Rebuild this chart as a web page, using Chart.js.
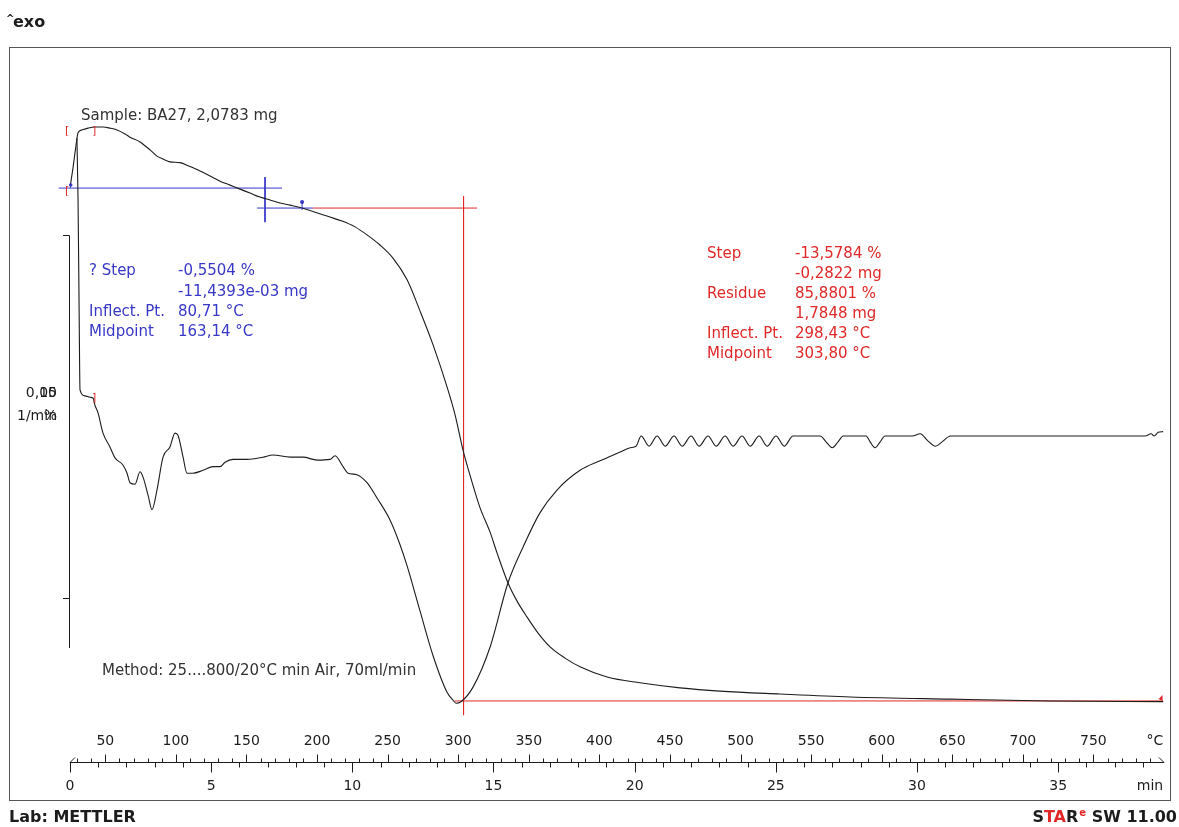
<!DOCTYPE html>
<html lang="en">
<head>
<meta charset="UTF-8">
<title>BA27 TGA / DTG</title>
<script src="https://cdn.jsdelivr.net/npm/chart.js"></script>
<style>
  body { margin: 0; background: #fff; }
  canvas { display: block; }
</style>
</head>
<body>
<canvas id="tgaChart" width="1179" height="827"></canvas>
<script>
// TGA curve: temperature (°C) against mass (%)
const tgaTemp = [25.0, 27.1, 29.3, 30.7, 33.5, 37.8, 42.7, 48.4, 53.3, 58.3, 64.0, 67.5, 74.6, 81.7, 86.6, 90.9,
  95.8, 102.9, 110.0, 117.1, 124.2, 131.3, 138.4, 145.5, 152.5, 159.6, 166.7, 173.8, 180.9, 189.4, 198.6, 209.2,
  217.7, 226.9, 235.4, 244.6, 253.8, 263.8, 273.0, 282.2, 292.1, 297.8, 303.4, 309.8, 315.5, 322.6, 327.5, 335.3,
  341.7, 348.8, 356.6, 365.1, 375.7, 386.3, 405.5, 428.8, 457.2, 485.5, 528.0, 577.6, 648.5, 719.3, 799.4];
const tgaMass = [100.01, 100.56, 101.20, 101.53, 101.61, 101.66, 101.69, 101.69, 101.66, 101.61, 101.50, 101.41, 101.28, 101.06, 100.89, 100.81,
  100.73, 100.71, 100.60, 100.48, 100.34, 100.20, 100.09, 99.98, 99.87, 99.76, 99.68, 99.60, 99.54, 99.46, 99.34, 99.21,
  99.10, 98.94, 98.72, 98.44, 98.08, 97.48, 96.62, 95.69, 94.53, 93.76, 92.79, 91.91, 91.20, 90.53, 89.96, 89.13,
  88.63, 88.19, 87.75, 87.37, 87.06, 86.82, 86.54, 86.38, 86.24, 86.15, 86.07, 85.99, 85.93, 85.88, 85.86];

// DTG curve: temperature (°C) against rate (1/min)
const dtgTemp = [29.9, 30.7, 31.4, 32.1, 35.6, 39.2, 41.3, 42.7, 44.8, 48.4, 53.3, 56.9, 62.6, 65.4, 67.5, 71.1,
  74.6, 76.7, 80.3, 83.1, 86.6, 90.9, 95.8, 99.4, 101.5, 105.1, 107.9, 112.1, 119.2, 126.3, 131.3, 134.8,
  140.5, 150.4, 161.7, 168.8, 180.9, 190.1, 200.0, 209.2, 212.8, 218.4, 222.0, 228.3, 235.4, 242.5, 251.7, 258.8,
  263.8, 273.0, 282.2, 292.1, 296.4, 298.4, 302.0, 310.5, 322.6, 335.3, 346.0, 358.0, 370.0, 386.3, 400.5, 414.7,
  421.8, 426.0, 429.6, 435.2, 440.9, 446.6, 452.9, 458.6, 465.0, 470.6, 477.0, 482.7, 489.1, 494.7, 501.1, 506.8,
  513.2, 518.8, 525.2, 530.9, 537.2, 542.2, 556.4, 560.6, 564.9, 569.1, 572.7, 589.0, 591.8, 595.3, 598.9, 602.4,
  621.6, 627.2, 632.9, 638.0, 642.8, 648.8, 786.6, 790.9, 793.0, 795.9, 799.4];
const dtgRate = [0.0408, 0.0323, 0.0186, 0.0063, 0.0055, 0.0053, 0.0052, 0.0042, 0.0032, 0.0004, -0.0015, -0.0030, -0.0040, -0.0051, -0.0064, -0.0066,
  -0.0049, -0.0056, -0.0081, -0.0101, -0.0074, -0.0029, -0.0015, 0.0004, 0.0001, -0.0029, -0.0051, -0.0051, -0.0047, -0.0042, -0.0042, -0.0036,
  -0.0032, -0.0032, -0.0029, -0.0026, -0.0029, -0.0029, -0.0033, -0.0032, -0.0027, -0.0042, -0.0051, -0.0053, -0.0064, -0.0085, -0.0115, -0.0149,
  -0.0178, -0.0240, -0.0301, -0.0351, -0.0362, -0.0366, -0.0364, -0.0344, -0.0289, -0.0201, -0.0152, -0.0105, -0.0074, -0.0047, -0.0034, -0.0022,
  -0.0016, -0.0014, 0.0000, -0.0014, 0.0000, -0.0014, 0.0000, -0.0014, 0.0000, -0.0014, 0.0000, -0.0014, 0.0000, -0.0014, 0.0000, -0.0014,
  0.0000, -0.0014, 0.0000, -0.0014, 0.0000, 0.0000, 0.0000, -0.0008, -0.0016, -0.0008, 0.0000, 0.0000, -0.0008, -0.0016, -0.0008, 0.0000,
  0.0000, 0.0003, -0.0007, -0.0014, -0.0008, 0.0000, 0.0000, 0.0003, 0.0000, 0.0005, 0.0006];

// ruler labels
const tempTicks = [50, 100, 150, 200, 250, 300, 350, 400, 450, 500, 550, 600, 650, 700, 750];
const timeTicks = [0, 5, 10, 15, 20, 25, 30, 35];

// evaluation results
const stepSmall = -0.5504, stepSmallMg = '-11,4393e-03', inflectSmall = 80.71, midSmall = 163.14;
const stepMain = -13.5784, stepMainMg = -0.2822, residue = 85.8801, residueMg = 1.7848, inflectMain = 298.43, midMain = 303.80;
const stepStartLevel = residue - stepMain;          // 99.4585 %
const baseLevel = stepStartLevel - stepSmall;      // 100.0089 %

const fmt = (v, d) => v.toFixed(d).replace('.', ',');
const pts = (xs, ys) => xs.map((x, i) => ({ x: x, y: ys[i] }));

const ink = '#1c1c1c';
const blue = '#3838c8';
const red = '#e02828';
const face = '"DejaVu Sans", Verdana, sans-serif';

function seg(data, color, axis) {
  return { data: data, yAxisID: axis, borderColor: color, borderWidth: 1, clip: false, pointRadius: 0 };
}

const paper = {
  id: 'paper',
  beforeDraw(chart) {
    const c = chart.ctx;
    c.save();
    c.fillStyle = '#fff';
    c.fillRect(0, 0, chart.width, chart.height);
    c.restore();
  },
  afterDraw(chart) {
    const c = chart.ctx;
    const xT = chart.scales.x, xM = chart.scales.time, yW = chart.scales.yTga;
    c.save();

    // frame
    c.strokeStyle = '#555';
    c.lineWidth = 1;
    c.strokeRect(9.5, 47.5, 1161, 753);

    // ruler: temperature above, time below
    const ry = 762.5;
    const x0 = xT.getPixelForValue(25), x1 = xT.getPixelForValue(800);
    c.strokeStyle = ink;
    c.beginPath();
    c.moveTo(x0, ry); c.lineTo(x1, ry);
    c.moveTo(x0, ry); c.lineTo(x0 + 5, ry - 5);
    c.moveTo(x1 - 5, ry - 5); c.lineTo(x1, ry);
    for (let t = 30; t <= 790; t += 10) {
      const px = Math.round(xT.getPixelForValue(t)) + 0.5;
      c.moveTo(px, ry); c.lineTo(px, ry - (t % 50 === 0 ? 8 : 4));
    }
    for (let m = 0; m <= 38; m++) {
      const px = Math.round(xM.getPixelForValue(m)) + 0.5;
      c.moveTo(px, ry); c.lineTo(px, ry + (m % 5 === 0 ? 10 : 5));
    }
    c.stroke();

    c.fillStyle = ink;
    c.font = '14px ' + face;
    c.textAlign = 'center';
    c.textBaseline = 'middle';
    tempTicks.forEach(t => c.fillText(String(t), xT.getPixelForValue(t), 741));
    timeTicks.forEach(m => c.fillText(String(m), xM.getPixelForValue(m), 786));
    c.fillText('°C', 1155, 741);
    c.fillText('min', 1150, 786);

    // scale bar: 10 % / 0,05 1/min
    const sTop = Math.round(yW.getPixelForValue(98.72)) + 0.5;
    const sBot = Math.round(yW.getPixelForValue(88.72)) + 0.5;
    c.beginPath();
    c.moveTo(69.5, sTop); c.lineTo(69.5, 648);
    c.moveTo(63, sTop); c.lineTo(69.5, sTop);
    c.moveTo(63, sBot); c.lineTo(69.5, sBot);
    c.stroke();
    c.textAlign = 'right';
    c.fillText('0,05', 57, 393);
    c.fillText('10', 57, 393);
    c.fillText('1/min', 57, 416);
    c.fillText('%', 57, 416);

    // headers and footers
    c.textAlign = 'left';
    c.font = 'bold 10px ' + face;
    c.fillText('^', 6, 19);
    c.font = 'bold 16px ' + face;
    c.fillText('exo', 13, 23);
    c.fillText('Lab: METTLER', 9, 818);
    c.textAlign = 'right';
    const sw = ' SW 11.00';
    let xr = 1177;
    c.fillText(sw, xr, 818); xr -= c.measureText(sw).width;
    c.font = 'bold 10px ' + face;
    c.fillStyle = red;
    c.fillText('e', xr, 813); xr -= c.measureText('e').width + 1;
    c.font = 'bold 16px ' + face;
    c.fillStyle = ink;
    c.fillText('R', xr, 818); xr -= c.measureText('R').width;
    c.fillStyle = red;
    c.fillText('TA', xr, 818); xr -= c.measureText('TA').width;
    c.fillStyle = ink;
    c.fillText('S', xr, 818);

    // annotations
    c.textAlign = 'left';
    c.font = '15px ' + face;
    c.fillStyle = '#333';
    c.fillText('Sample: BA27, 2,0783 mg', 81, 116);
    c.fillText('Method: 25....800/20°C min Air, 70ml/min', 102, 671);

    c.fillStyle = blue;
    const bl = ['? Step', '', 'Inflect. Pt.', 'Midpoint'];
    const bv = [fmt(stepSmall, 4) + ' %', stepSmallMg + ' mg', fmt(inflectSmall, 2) + ' °C', fmt(midSmall, 2) + ' °C'];
    const by = [271, 292, 312, 332];
    bl.forEach((s, i) => { c.fillText(s, 89, by[i]); c.fillText(bv[i], 178, by[i]); });

    c.fillStyle = red;
    const rl = ['Step', '', 'Residue', '', 'Inflect. Pt.', 'Midpoint'];
    const rv = [fmt(stepMain, 4) + ' %', fmt(stepMainMg, 4) + ' mg', fmt(residue, 4) + ' %', fmt(residueMg, 4) + ' mg',
      fmt(inflectMain, 2) + ' °C', fmt(midMain, 2) + ' °C'];
    rl.forEach((s, i) => { c.fillText(s, 707, 254 + 20 * i); c.fillText(rv[i], 795, 254 + 20 * i); });

    // evaluation limit brackets
    c.font = '11px ' + face;
    c.fillText('[', 65, 131);
    c.fillText(']', 92, 131);
    c.fillText('[', 65, 191);
    c.fillText(']', 92, 398);

    // step markers
    const mx = xT.getPixelForValue(189.4), my = yW.getPixelForValue(stepStartLevel);
    c.strokeStyle = blue;
    c.beginPath(); c.moveTo(mx, my - 6); c.lineTo(mx, my + 2); c.stroke();
    c.fillStyle = blue;
    c.beginPath(); c.arc(mx, my - 6, 2, 0, Math.PI * 2); c.fill();
    c.beginPath(); c.arc(xT.getPixelForValue(25.5), yW.getPixelForValue(baseLevel) - 3, 1.8, 0, Math.PI * 2); c.fill();
    c.fillStyle = red;
    c.beginPath();
    const ex = xT.getPixelForValue(799), ey = yW.getPixelForValue(residue);
    c.moveTo(ex, ey - 6); c.lineTo(ex, ey); c.lineTo(ex - 4, ey - 2); c.closePath(); c.fill();

    c.restore();
  }
};

new Chart(document.getElementById('tgaChart'), {
  type: 'line',
  data: {
    datasets: [
      { data: pts(tgaTemp, tgaMass), yAxisID: 'yTga', borderColor: ink, borderWidth: 1.1, pointRadius: 0,
        cubicInterpolationMode: 'monotone' },
      { data: pts(dtgTemp, dtgRate), yAxisID: 'yDtg', borderColor: ink, borderWidth: 1.1, pointRadius: 0,
        cubicInterpolationMode: 'monotone' },
      // baseline before the small step and its midpoint cross
      seg([{ x: 17, y: baseLevel }, { x: 175.2, y: baseLevel }], blue, 'yTga'),
      seg([{ x: midSmall, y: 100.31 }, { x: midSmall, y: 99.07 }], blue, 'yTga'),
      seg([{ x: 157.5, y: stepStartLevel }, { x: 197.2, y: stepStartLevel }], blue, 'yTga'),
      // main step: start level, midpoint, residue
      seg([{ x: 197.2, y: stepStartLevel }, { x: 313.4, y: stepStartLevel }], red, 'yTga'),
      seg([{ x: midMain, y: 99.79 }, { x: midMain, y: 85.49 }], red, 'yTga'),
      seg([{ x: 297.5, y: residue }, { x: 799.4, y: residue }], red, 'yTga')
    ]
  },
  options: {
    responsive: false,
    animation: false,
    events: [],
    layout: { padding: { left: 70, right: 15, top: 60, bottom: 107 } },
    plugins: { legend: { display: false }, tooltip: { enabled: false } },
    elements: { line: { tension: 0 }, point: { radius: 0 } },
    scales: {
      x: { type: 'linear', min: 25, max: 800, display: false },
      time: { type: 'linear', axis: 'x', min: 0, max: 38.75, display: false },
      yTga: { type: 'linear', min: 85.355, max: 103.537, display: false },
      yDtg: { type: 'linear', min: -0.038904, max: 0.051507, display: false }
    }
  },
  plugins: [paper]
});
</script>
</body>
</html>
